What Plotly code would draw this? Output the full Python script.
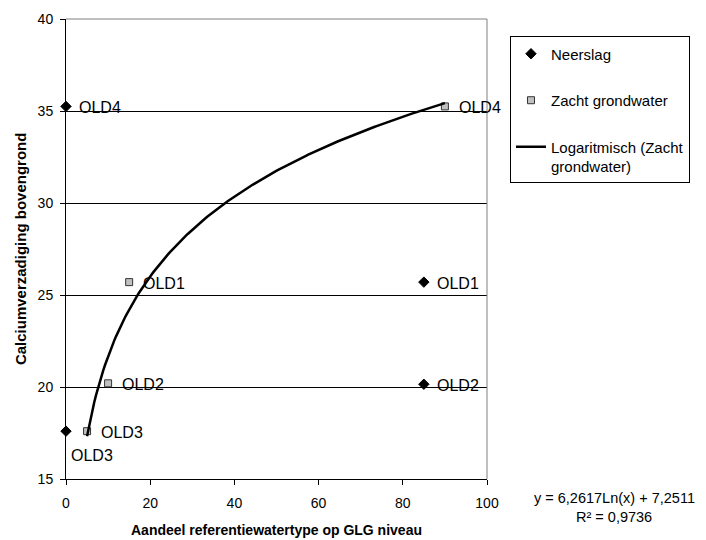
import numpy as np
import plotly.graph_objects as go

# Share of reference water type at GLG level (%) and calcium saturation of the topsoil
locations = ["OLD4", "OLD1", "OLD2", "OLD3"]
neerslag_x = [0, 85, 85, 0]
neerslag_y = [35.25, 25.7, 20.15, 17.6]
grondwater_x = [90, 15, 10, 5]
grondwater_y = [35.25, 25.7, 20.2, 17.6]

# Logarithmic trend fitted on the soft-groundwater series
TREND_A = 6.2617
TREND_B = 7.2511
TREND_R2 = 0.9736

x_ticks = [0, 20, 40, 60, 80, 100]
y_ticks = [15, 20, 25, 30, 35, 40]

FONT = "Liberation Sans, Arial, sans-serif"

trend_x = np.linspace(min(grondwater_x), max(grondwater_x), 200)
trend_y = TREND_A * np.log(trend_x) + TREND_B

fig = go.Figure()

fig.add_trace(go.Scatter(
    x=neerslag_x, y=neerslag_y, mode="markers", name="Neerslag",
    legendgroup="a", cliponaxis=False,
    marker=dict(symbol="diamond", size=8, color="black",
                line=dict(color="black", width=1)),
))
fig.add_trace(go.Scatter(
    x=grondwater_x, y=grondwater_y, mode="markers", name="Zacht grondwater",
    legendgroup="b", cliponaxis=False,
    marker=dict(symbol="square", size=7, color="#c0c0c0",
                line=dict(color="#333333", width=1)),
))
fig.add_trace(go.Scatter(
    x=trend_x, y=trend_y, mode="lines",
    name="Logaritmisch (Zacht<br>grondwater)",
    legendgroup="c",
    line=dict(color="black", width=2.5),
))

annotations = []
# Point labels: right of each marker, except the lower-left rain point (below it)
for x, y, lab in zip(neerslag_x, neerslag_y, locations):
    if lab == "OLD3":
        annotations.append(dict(x=x, y=y, text=lab, showarrow=False,
                                xanchor="left", yanchor="middle",
                                xshift=3, yshift=-24,
                                font=dict(size=16, color="black", family=FONT)))
    else:
        annotations.append(dict(x=x, y=y, text=lab, showarrow=False,
                                xanchor="left", yanchor="middle",
                                xshift=11, yshift=-1,
                                font=dict(size=16, color="black", family=FONT)))
for x, y, lab in zip(grondwater_x, grondwater_y, locations):
    annotations.append(dict(x=x, y=y, text=lab, showarrow=False,
                            xanchor="left", yanchor="middle",
                            xshift=12, yshift=-1,
                            font=dict(size=16, color="black", family=FONT)))

# Axis titles
annotations.append(dict(xref="paper", yref="paper", x=0.5, y=-0.111,
                        text="<b>Aandeel referentiewatertype op GLG niveau</b>",
                        showarrow=False, xanchor="center", yanchor="middle",
                        font=dict(size=14, color="black", family=FONT)))
annotations.append(dict(xref="paper", yref="paper", x=-0.109, y=0.5,
                        text="<b>Calciumverzadiging bovengrond</b>",
                        textangle=-90, showarrow=False,
                        xanchor="center", yanchor="middle",
                        font=dict(size=15, color="black", family=FONT)))

# Trend equation and fit quality
eq_text = "y = {}Ln(x) + {}".format(f"{TREND_A:.4f}".replace(".", ","),
                                     f"{TREND_B:.4f}".replace(".", ","))
r2_text = "R² = {}".format(f"{TREND_R2:.4f}".replace(".", ","))
annotations.append(dict(xref="paper", yref="paper", x=1.3017, y=-0.041,
                        text=eq_text, showarrow=False,
                        xanchor="center", yanchor="middle",
                        font=dict(size=14.5, color="black", family=FONT)))
annotations.append(dict(xref="paper", yref="paper", x=1.3017, y=-0.082,
                        text=r2_text, showarrow=False,
                        xanchor="center", yanchor="middle",
                        font=dict(size=14.5, color="black", family=FONT)))

fig.update_layout(
    width=706, height=540,
    margin=dict(l=66, r=219, t=19, b=61),
    paper_bgcolor="white", plot_bgcolor="white",
    font=dict(family=FONT, color="black"),
    showlegend=True,
    legend=dict(
        x=1.0546, y=0.962, xanchor="left", yanchor="top",
        bordercolor="black", borderwidth=1, bgcolor="white",
        font=dict(size=15, color="black", family=FONT),
        traceorder="grouped", tracegroupgap=24, valign="top",
    ),
    annotations=annotations,
    shapes=[
        # grey frame on the top and right sides of the plot area
        dict(type="line", xref="paper", yref="paper", x0=0, x1=1, y0=1, y1=1,
             line=dict(color="#808080", width=1)),
        dict(type="line", xref="paper", yref="paper", x0=1, x1=1, y0=0, y1=1,
             line=dict(color="#808080", width=1)),
    ],
)

fig.update_xaxes(
    range=[0, 100], tickvals=x_ticks, ticktext=[str(v) for v in x_ticks],
    showgrid=False, zeroline=False,
    showline=True, linecolor="black", linewidth=1,
    ticks="outside", ticklen=5, tickcolor="black",
    tickfont=dict(size=14, color="black", family=FONT),
    ticklabelstandoff=6,
)
fig.update_yaxes(
    range=[15, 40], tickvals=y_ticks, ticktext=[str(v) for v in y_ticks],
    showgrid=True, gridcolor="black", gridwidth=1, zeroline=False,
    showline=True, linecolor="black", linewidth=1,
    ticks="outside", ticklen=5, tickcolor="black",
    tickfont=dict(size=14, color="black", family=FONT),
    ticklabelstandoff=4,
)

fig.write_html("out.html")
